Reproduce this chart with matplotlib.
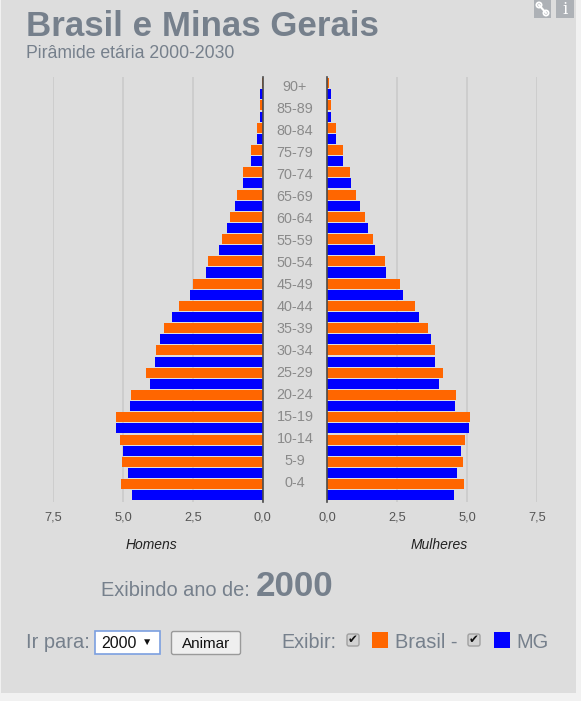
# Piramide etaria - Brasil e Minas Gerais (ano 2000)
import matplotlib
matplotlib.use('Agg')
import numpy as np
import matplotlib.pyplot as plt
from matplotlib.patches import Rectangle, FancyBboxPatch, Circle

plt.rcParams['font.family'] = ['Liberation Sans', 'DejaVu Sans']

faixas = ['90+', '85-89', '80-84', '75-79', '70-74', '65-69', '60-64', '55-59', '50-54', '45-49',
          '40-44', '35-39', '30-34', '25-29', '20-24', '15-19', '10-14', '5-9', '0-4']
# % da populacao
homens_br = [0.04, 0.10, 0.20, 0.43, 0.69, 0.92, 1.18, 1.45, 1.94, 2.48,
             3.01, 3.54, 3.81, 4.17, 4.70, 5.24, 5.11, 5.02, 5.06]
homens_mg = [0.11, 0.11, 0.20, 0.43, 0.69, 1.00, 1.27, 1.58, 2.02, 2.61,
             3.23, 3.68, 3.86, 4.04, 4.75, 5.24, 4.98, 4.80, 4.67]
mulheres_br = [0.08, 0.13, 0.33, 0.56, 0.82, 1.04, 1.35, 1.63, 2.07, 2.60,
               3.14, 3.59, 3.85, 4.13, 4.62, 5.10, 4.92, 4.84, 4.89]
mulheres_mg = [0.15, 0.15, 0.33, 0.56, 0.87, 1.17, 1.45, 1.72, 2.12, 2.70,
               3.27, 3.72, 3.85, 4.00, 4.57, 5.07, 4.79, 4.66, 4.53]
ticks = [0, 2.5, 5, 7.5]
tick_labels = ['0,0', '2,5', '5,0', '7,5']

LARG, ALT = 581, 701
LARANJA = '#ff6600'
AZUL = '#0000ff'
FUNDO = '#dddddd'
CINZA = '#76808c'

fig = plt.figure(figsize=(LARG / 100, ALT / 100), dpi=100, facecolor='#f1f1f1')

# camada em pixels para o painel e os textos
bg = fig.add_axes([0, 0, 1, 1], zorder=0)
bg.set_xlim(0, LARG)
bg.set_ylim(ALT, 0)
bg.axis('off')
bg.add_patch(Rectangle((1, 0), 575, 693, fc=FUNDO, ec='none'))


def eixo(x0, x1, inverter):
    ax = fig.add_axes([x0 / LARG, 1 - 502 / ALT, (x1 - x0) / LARG, 425 / ALT], zorder=1)
    ax.patch.set_alpha(0)
    ax.set_xlim(7.5, 0) if inverter else ax.set_xlim(0, 7.5)
    ax.set_ylim(37.61, -0.557)
    ax.set_xticks(ticks)
    ax.set_xticklabels(tick_labels, fontsize=9.2, color='#555555')
    ax.set_yticks([])
    ax.tick_params(axis='x', length=0, pad=7)
    ax.grid(axis='x', color='#cacaca', linewidth=1.2)
    ax.set_axisbelow(True)
    for s in ax.spines.values():
        s.set_visible(False)
    return ax


def barras(ax, br, mg):
    y = np.arange(len(faixas))
    ax.barh(y * 2, br, height=0.9, color=LARANJA)
    ax.barh(y * 2 + 1, mg, height=0.9, color=AZUL)
    ax.axvline(0, color='#4a4a4a', linewidth=1.2, zorder=3, clip_on=False)


ax_h = eixo(53, 262.7, True)
ax_m = eixo(327, 537, False)
barras(ax_h, homens_br, homens_mg)
barras(ax_m, mulheres_br, mulheres_mg)

# rotulos das faixas (passo um pouco diferente do das barras)
for i, f in enumerate(faixas):
    bg.text(295, 87 + 22 * i, f, ha='center', va='center', fontsize=10.4, color='#8a8a8a')

bg.text(26, 26, 'Brasil e Minas Gerais', fontsize=25.1, fontweight='bold', color=CINZA, va='center')
bg.text(26, 54, 'Pirâmide etária 2000-2030', fontsize=12.7, color=CINZA, va='center')

bg.text(151, 545, 'Homens', fontsize=10, style='italic', color='#222222', ha='center', va='center')
bg.text(439, 545, 'Mulheres', fontsize=10, style='italic', color='#222222', ha='center', va='center')

bg.text(101, 591, 'Exibindo ano de:', fontsize=14.4, color=CINZA, va='center')
bg.text(256, 587, '2000', fontsize=25.2, fontweight='bold', color=CINZA, va='center')

# controles do rodape
bg.text(26, 643, 'Ir para:', fontsize=14.4, color=CINZA, va='center')
bg.add_patch(Rectangle((95, 631), 65, 23, fc='white', ec='#7b9fe0', lw=1.2))
bg.text(101, 643, '2000', fontsize=11.4, color='#111111', va='center')
bg.text(147.5, 642, '▼', fontsize=7.5, color='#111111', ha='center', va='center')
bg.add_patch(FancyBboxPatch((171.5, 631.5), 69, 23, boxstyle='round,pad=0,rounding_size=2',
                            fc='#efefef', ec='#9a9a9a', lw=1))
bg.text(206, 643.5, 'Animar', fontsize=11, color='#111111', ha='center', va='center')

bg.text(281, 642, 'Exibir:', fontsize=14.2, color=CINZA, va='center')
for cx in (353, 474):
    bg.add_patch(FancyBboxPatch((cx - 6, 634), 12, 12, boxstyle='round,pad=0,rounding_size=2',
                                fc='#d2d2d2', ec='#a0a0a0', lw=1))
    bg.text(cx, 640, '✔', fontsize=8.5, color='#111111', ha='center', va='center')
bg.add_patch(Rectangle((372, 632), 16, 16, fc=LARANJA, ec='none'))
bg.text(395, 643, 'Brasil -', fontsize=14.4, color=CINZA, va='center')
bg.add_patch(Rectangle((494, 632), 16, 16, fc=AZUL, ec='none'))
bg.text(516, 643, 'MG', fontsize=14.4, color=CINZA, va='center')

# icones no canto
bg.add_patch(Rectangle((534, 0), 17, 18, fc='#adb1b6', ec='none'))
bg.add_patch(Rectangle((556, 0), 18, 18, fc='#adb1b6', ec='none'))
bg.plot([539, 546], [5, 13], color='white', lw=1.5)
bg.add_patch(Circle((539, 5), 2.6, fc='none', ec='white', lw=1.3))
bg.add_patch(Circle((546, 13), 2.6, fc='none', ec='white', lw=1.3))
bg.text(565, 9, 'i', fontsize=12, family='DejaVu Serif', color='white', ha='center', va='center')

fig.savefig('out.png', dpi=100, facecolor=fig.get_facecolor())
